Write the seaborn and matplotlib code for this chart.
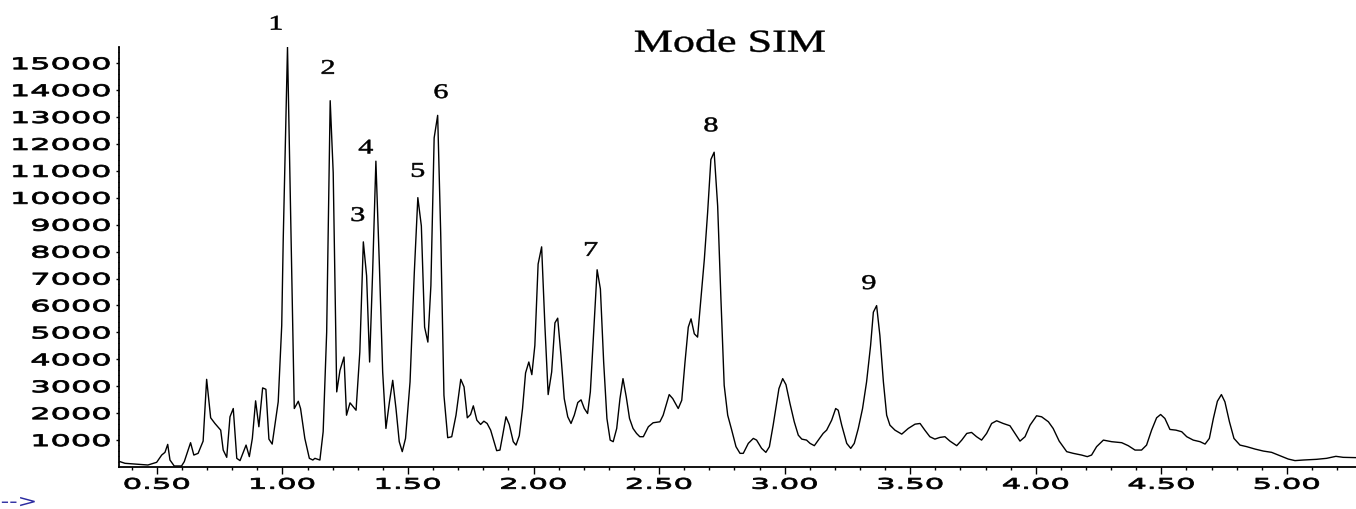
import matplotlib
matplotlib.use("Agg")
import matplotlib.pyplot as plt
import seaborn as sns
from matplotlib.patheffects import AbstractPathEffect
from matplotlib.path import Path
from matplotlib.transforms import Affine2D
from matplotlib.ticker import MultipleLocator

# --- SIM chromatogram: retention time (min) and abundance ---
time_min = [
    0.349, 0.373, 0.464, 0.499, 0.519, 0.532, 0.543, 0.552, 0.569, 0.598,
    0.609, 0.634, 0.647, 0.664, 0.684, 0.698, 0.714, 0.731, 0.754, 0.764,
    0.778, 0.791, 0.804, 0.818, 0.831, 0.855, 0.868, 0.880, 0.893, 0.906,
    0.921, 0.934, 0.946, 0.959, 0.983, 0.997, 1.003, 1.020, 1.047, 1.063,
    1.072, 1.089, 1.107, 1.121, 1.129, 1.149, 1.162, 1.176, 1.190, 1.202,
    1.216, 1.229, 1.245, 1.255, 1.269, 1.293, 1.308, 1.322, 1.335, 1.347,
    1.359, 1.372, 1.386, 1.399, 1.412, 1.426, 1.439, 1.452, 1.465, 1.477,
    1.490, 1.508, 1.525, 1.539, 1.553, 1.566, 1.579, 1.591, 1.604, 1.618,
    1.630, 1.643, 1.658, 1.674, 1.691, 1.710, 1.723, 1.736, 1.749, 1.760,
    1.774, 1.789, 1.802, 1.815, 1.829, 1.853, 1.866, 1.877, 1.890, 1.903,
    1.919, 1.930, 1.943, 1.956, 1.968, 1.981, 1.993, 2.005, 2.018, 2.032,
    2.045, 2.058, 2.072, 2.085, 2.096, 2.109, 2.122, 2.136, 2.149, 2.162,
    2.176, 2.189, 2.202, 2.215, 2.226, 2.239, 2.253, 2.266, 2.279, 2.292,
    2.305, 2.317, 2.331, 2.344, 2.356, 2.369, 2.382, 2.396, 2.410, 2.423,
    2.437, 2.457, 2.476, 2.503, 2.516, 2.540, 2.554, 2.576, 2.590, 2.603,
    2.616, 2.627, 2.640, 2.653, 2.666, 2.680, 2.693, 2.706, 2.719, 2.733,
    2.746, 2.759, 2.773, 2.789, 2.806, 2.822, 2.835, 2.855, 2.875, 2.888,
    2.908, 2.925, 2.939, 2.954, 2.977, 2.992, 3.005, 3.021, 3.038, 3.054,
    3.068, 3.087, 3.101, 3.118, 3.134, 3.153, 3.167, 3.187, 3.203, 3.213,
    3.227, 3.247, 3.263, 3.277, 3.293, 3.310, 3.326, 3.342, 3.353, 3.366,
    3.379, 3.393, 3.406, 3.419, 3.439, 3.466, 3.492, 3.519, 3.539, 3.558,
    3.578, 3.598, 3.618, 3.638, 3.658, 3.685, 3.705, 3.725, 3.744, 3.764,
    3.784, 3.804, 3.824, 3.844, 3.870, 3.897, 3.917, 3.937, 3.957, 3.977,
    4.003, 4.023, 4.050, 4.069, 4.093, 4.123, 4.149, 4.182, 4.205, 4.222,
    4.242, 4.269, 4.302, 4.342, 4.368, 4.395, 4.421, 4.441, 4.461, 4.481,
    4.497, 4.514, 4.534, 4.558, 4.581, 4.601, 4.627, 4.654, 4.674, 4.691,
    4.707, 4.723, 4.739, 4.753, 4.771, 4.789, 4.813, 4.840, 4.873, 4.906,
    4.939, 4.972, 5.005, 5.032, 5.065, 5.118, 5.158, 5.195, 5.224, 5.275,
]
abundance = [
    211, 137, 74, 174, 444, 544, 840, 259, 37, 37,
    200, 903, 444, 507, 962, 3256, 1828, 1617, 1369, 629,
    359, 1865, 2172, 322, 237, 814, 385, 1062, 2457, 1495,
    2938, 2886, 1036, 851, 2420, 5254, 8462, 15592, 2172, 2442,
    2172, 1062, 322, 259, 322, 259, 1310, 5010, 13605, 10930,
    2790, 3589, 4085, 1924, 2383, 2109, 4270, 8362, 7104, 3900,
    7230, 11359, 7474, 3530, 1432, 2420, 3219, 2172, 940, 570,
    1062, 3160, 7230, 10005, 8954, 5195, 4640, 6734, 12225, 13061,
    8710, 2664, 1088, 1125, 1924, 3256, 2975, 1828, 1950, 2272,
    1739, 1580, 1702, 1617, 1369, 607, 629, 1184, 1865, 1580,
    940, 814, 1162, 2172, 3493, 3900, 3430, 4514, 7537, 8177,
    5254, 2690, 3530, 5354, 5528, 4144, 2542, 1865, 1617, 1924,
    2394, 2494, 2172, 1987, 2790, 5010, 7326, 6612, 3900, 1802,
    999, 940, 1432, 2542, 3282, 2605, 1802, 1432, 1247, 1125,
    1125, 1495, 1643, 1680, 1924, 2690, 2542, 2172, 2479, 3900,
    5195, 5502, 4947, 4825, 6242, 7722, 9450, 11422, 11692, 9694,
    6242, 3034, 1924, 1369, 755, 507, 507, 877, 1062, 999,
    692, 544, 755, 1554, 2912, 3282, 3060, 2357, 1680, 1184,
    1036, 999, 877, 792, 999, 1247, 1369, 1739, 2172, 2109,
    1554, 877, 692, 877, 1432, 2172, 3160, 4514, 5750, 5994,
    4884, 3160, 1924, 1554, 1369, 1221, 1432, 1591, 1617, 1369,
    1125, 1036, 1099, 1125, 962, 792, 999, 1247, 1284, 1125,
    999, 1247, 1617, 1717, 1617, 1532, 1247, 962, 1125, 1554,
    1902, 1865, 1680, 1432, 962, 570, 507, 444, 385, 444,
    755, 999, 940, 903, 792, 629, 629, 814, 1369, 1828,
    1950, 1802, 1395, 1369, 1310, 1125, 999, 940, 851, 1062,
    1802, 2442, 2690, 2420, 1680, 1062, 814, 755, 666, 592,
    544, 422, 296, 237, 259, 285, 322, 396, 359, 348,
]

# peak numbers and where they are written (time, abundance at the text baseline)
peak_ids = ["1", "2", "3", "4", "5", "6", "7", "8", "9"]
peak_label_t = [0.974, 1.181, 1.300, 1.332, 1.539, 1.631, 2.228, 2.706, 3.335]
peak_label_y = [16247, 14604, 9139, 11644, 10782, 13705, 7844, 12469, 6612]

x_major = [0.5, 1.0, 1.5, 2.0, 2.5, 3.0, 3.5, 4.0, 4.5, 5.0]
x_labels = ["0.50", "1.00", "1.50", "2.00", "2.50", "3.00", "3.50", "4.00", "4.50", "5.00"]
y_major = [1000, 2000, 3000, 4000, 5000, 6000, 7000, 8000, 9000, 10000,
           11000, 12000, 13000, 14000, 15000]
y_labels = [str(v) for v in y_major]

title_text = "Mode SIM"
arrow_text = "-->"


class Stretch(AbstractPathEffect):
    """Widen glyphs horizontally (the source used a very wide font),
    optionally thickening them with a thin outline."""

    def __init__(self, sx, anchor="center", stroke=0.0):
        super().__init__()
        self.sx = sx
        self.anchor = anchor
        self.stroke = stroke

    def draw_path(self, renderer, gc, tpath, affine, rgbFace=None):
        v = tpath.vertices
        if tpath.codes is not None:
            v = v[tpath.codes != Path.CLOSEPOLY]
        if len(v):
            x0, x1 = v[:, 0].min(), v[:, 0].max()
        else:
            x0 = x1 = 0.0
        cx = {"left": x0, "right": x1}.get(self.anchor, 0.5 * (x0 + x1))
        t = Affine2D().translate(-cx, 0).scale(self.sx, 1).translate(cx, 0) + affine
        gc0 = renderer.new_gc()
        gc0.copy_properties(gc)
        if self.stroke > 0 and rgbFace is not None:
            gc0.set_linewidth(self.stroke)
            gc0.set_foreground(rgbFace)
            gc0.set_joinstyle("round")
        renderer.draw_path(gc0, tpath, t, rgbFace)
        gc0.restore()


sns.set_style("ticks")
plt.rcParams["font.family"] = ["DejaVu Sans"]

W, H = 1356, 510
fig = plt.figure(figsize=(W / 100, H / 100), dpi=100)
ax = fig.add_axes([119 / W, 42 / H, 1 - 119 / W, 420 / H])

sns.lineplot(x=time_min, y=abundance, ax=ax, color="black", linewidth=1.0,
             estimator=None, sort=False)

ax.set_xlim(0.349, 5.275)
ax.set_ylim(0, 15600)
sns.despine(ax=ax)
for side in ["left", "bottom"]:
    ax.spines[side].set_color("black")
    ax.spines[side].set_linewidth(1.3)

ax.set_xticks(x_major, x_labels)
ax.xaxis.set_minor_locator(MultipleLocator(0.1))
ax.set_yticks(y_major, y_labels)
ax.yaxis.set_minor_locator(MultipleLocator(200))
ax.tick_params(axis="x", which="major", length=5, width=1, pad=2,
               labelsize=10.5, colors="black")
ax.tick_params(axis="x", which="minor", length=2.5, width=1, colors="black")
ax.tick_params(axis="y", which="major", length=2.2, width=1, pad=4,
               labelsize=11.5, colors="black")
ax.tick_params(axis="y", which="minor", length=1.0, width=0.8, colors="black")
ax.set_xlabel("")
ax.set_ylabel("")

for lab in ax.get_xticklabels():
    lab.set_path_effects([Stretch(2.1, "center", stroke=0.6)])
for lab in ax.get_yticklabels():
    lab.set_path_effects([Stretch(2.0, "right", stroke=0.6)])

for pid, pt, py in zip(peak_ids, peak_label_t, peak_label_y):
    ax.text(pt, py, pid, ha="center", va="baseline", fontsize=15,
            family=["Liberation Serif", "DejaVu Serif"], color="black",
            clip_on=False, path_effects=[Stretch(1.45, "center", stroke=0.4)])

fig.text(730 / W, 1 - 52.7 / H, title_text, ha="center", va="baseline",
         fontsize=23, family=["Liberation Serif", "DejaVu Serif"], color="black",
         path_effects=[Stretch(1.38, "center", stroke=0.3)])

fig.text(1 / W, 2 / H, arrow_text, ha="left", va="baseline", fontsize=12.5,
         color="#2a2aa0", path_effects=[Stretch(1.35, "left")])

fig.savefig("out.png", dpi=100)
